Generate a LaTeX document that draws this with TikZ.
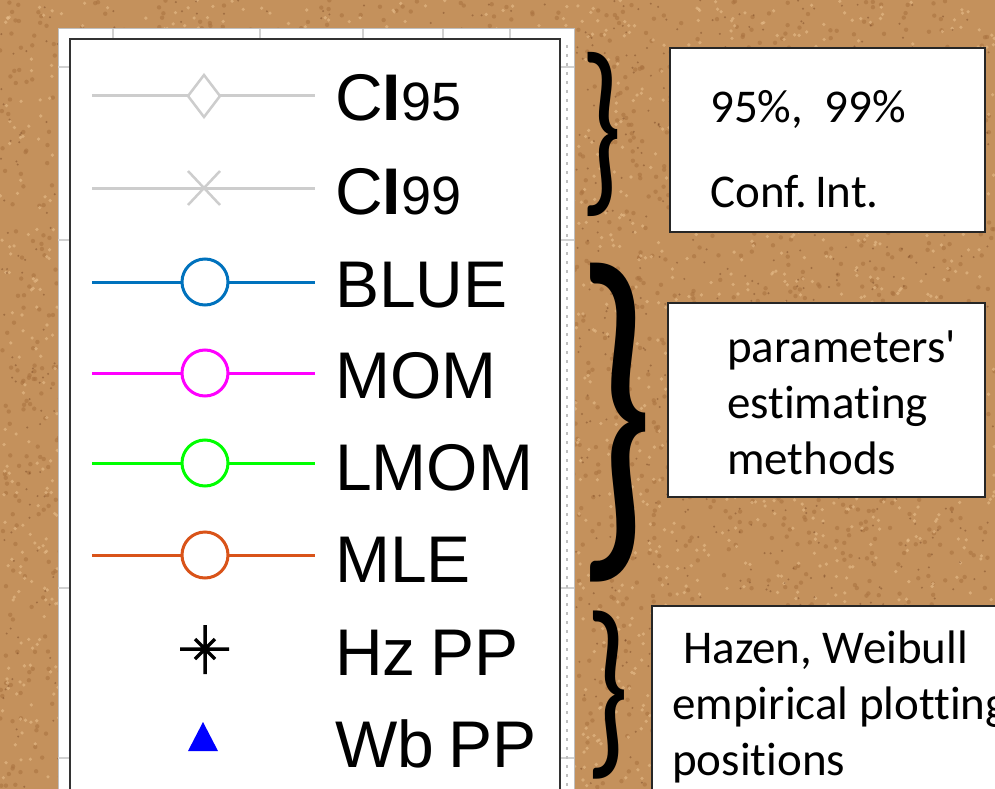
\documentclass[tikz,border=0pt]{standalone}
\usepackage{fontspec}
\setmainfont{Liberation Sans}
\newfontfamily\calib[Ligatures={NoCommon}]{Carlito}
\usepackage{graphicx}
\definecolor{cork}{RGB}{196,145,92}
\definecolor{corkdark}{RGB}{125,75,40}
\definecolor{corkmid}{RGB}{170,115,65}
\definecolor{corklight}{RGB}{232,190,140}
\definecolor{ciGray}{RGB}{205,205,205}
\definecolor{mBlue}{RGB}{0,114,189}
\definecolor{mMag}{RGB}{255,0,255}
\definecolor{mGreen}{RGB}{0,255,0}
\definecolor{mOrange}{RGB}{217,83,25}
\tikzset{
  legline/.style={line width=3pt},
  legtext/.style={anchor=base west, inner sep=0, font=\fontsize{66}{66}\selectfont},
  boxstyle/.style={draw=black!85, line width=1.5pt, fill=white},
  boxtext/.style={anchor=base west, inner sep=0, font=\calib\fontsize{47}{47}\selectfont},
  bracenode/.style={inner sep=0, anchor=north west},
  tick/.style={draw=black!18, line width=1.5pt}
}
\begin{document}
\begin{tikzpicture}[x=1pt,y=-1pt]
\useasboundingbox (0,0) rectangle (995,789);
\clip (0,0) rectangle (995,789);
% cork background
\fill[cork] (0,0) rectangle (995,789);
\pgfmathsetseed{11}
\foreach \i in {1,...,2500}{
  \pgfmathsetmacro\xx{rnd*995}\pgfmathsetmacro\yy{rnd*789}
  \fill[corkmid, opacity=0.6] (\xx,\yy) circle (2.2);
}
\foreach \i in {1,...,2500}{
  \pgfmathsetmacro\xx{rnd*995}\pgfmathsetmacro\yy{rnd*789}
  \fill[corklight, opacity=0.6] (\xx,\yy) circle (1.8);
}
\foreach \i in {1,...,1500}{
  \pgfmathsetmacro\xx{rnd*995}\pgfmathsetmacro\yy{rnd*789}
  \fill[corkdark, opacity=0.5] (\xx,\yy) circle (1.1);
}
% legend panel
\fill[white] (58,29) rectangle (574,800);
\draw[black!25, line width=1pt] (58,29) rectangle (574,800);
\foreach \tx in {113,260,363,443,510} \draw[tick] (\tx,29) -- (\tx,38);
\foreach \ty in {67,240,588,758} {\draw[tick] (58,\ty) -- (70,\ty); \draw[tick] (560,\ty) -- (574,\ty);}
\draw[black!25, line width=1.5pt, dash pattern=on 3pt off 6pt] (567,45) -- (567,789);
\draw[black!80, line width=2.5pt] (70,39) rectangle (560,800);
% CI95
\draw[legline, ciGray] (92,96) -- (315,96);
\draw[ciGray, line width=2.5pt, fill=white] (204,75) -- (220,96) -- (204,117) -- (188,96) -- cycle;
\node[legtext] (t1) at (335,121) {C\textbf{I}{\fontsize{54}{54}\selectfont 95}};
% CI99
\draw[legline, ciGray] (92,188) -- (315,188);
\draw[ciGray, line width=2.5pt] (188,171) -- (220,205) (188,205) -- (220,171);
\node[legtext] (t2) at (335,214) {C\textbf{I}{\fontsize{54}{54}\selectfont 99}};
% BLUE
\draw[legline, mBlue] (92,282) -- (315,282);
\draw[mBlue, line width=3pt, fill=white] (205,282) circle (23);
\node[legtext] (t3) at (335,307) {BLUE};
% MOM
\draw[legline, mMag] (92,373) -- (315,373);
\draw[mMag, line width=3pt, fill=white] (205,373) circle (23);
\node[legtext] (t4) at (335,398) {MOM};
% LMOM
\draw[legline, mGreen] (92,463) -- (315,463);
\draw[mGreen, line width=3pt, fill=white] (205,463) circle (23);
\node[legtext] (t5) at (335,490) {LMOM};
% MLE
\draw[legline, mOrange] (92,555) -- (315,555);
\draw[mOrange, line width=3pt, fill=white] (205,555) circle (23);
\node[legtext] (t6) at (335,582) {MLE};
% Hz PP asterisk
\draw[black, line width=3.5pt] (205,625) -- (205,674) (180,649) -- (229,649) (195,639) -- (215,659) (195,659) -- (215,639);
\node[legtext] (t7) at (335,675) {Hz\kern-4pt\ PP};
% Wb PP triangle
\fill[blue] (203,722) -- (218,751) -- (188,751) -- cycle;
\node[legtext] (t8) at (335,767) {Wb\kern-4pt\ PP};
% braces
\node[bracenode] (b1) at (580,52) {\resizebox*{42pt}{164pt}{\calib\}}};
\node[bracenode] (b2) at (576,263) {\resizebox*{78pt}{318pt}{\calib\}}};
\node[bracenode] (b3) at (585,611) {\resizebox*{44pt}{168pt}{\calib\}}};
% boxes
\draw[boxstyle] (670,48) rectangle (985,232);
\node[boxtext] (c1) at (710,123) {95\%,\ \ 99\%};
\node[boxtext] (c2) at (710,207) {Conf.\kern-3pt\ Int.};
\draw[boxstyle] (668,303) rectangle (985,497);
\node[boxtext] (p1) at (727,362) {parameters'};
\node[boxtext] (p2) at (727,418) {estimating};
\node[boxtext] (p3) at (727,474) {methods};
\draw[boxstyle] (652,606) rectangle (1010,820);
\node[boxtext] (h1) at (683,663) {Hazen, Weibull};
\node[boxtext] (h2) at (672,719) {empirical plotting};
\node[boxtext] (h3) at (672,775) {positions};
\end{tikzpicture}
\end{document}
